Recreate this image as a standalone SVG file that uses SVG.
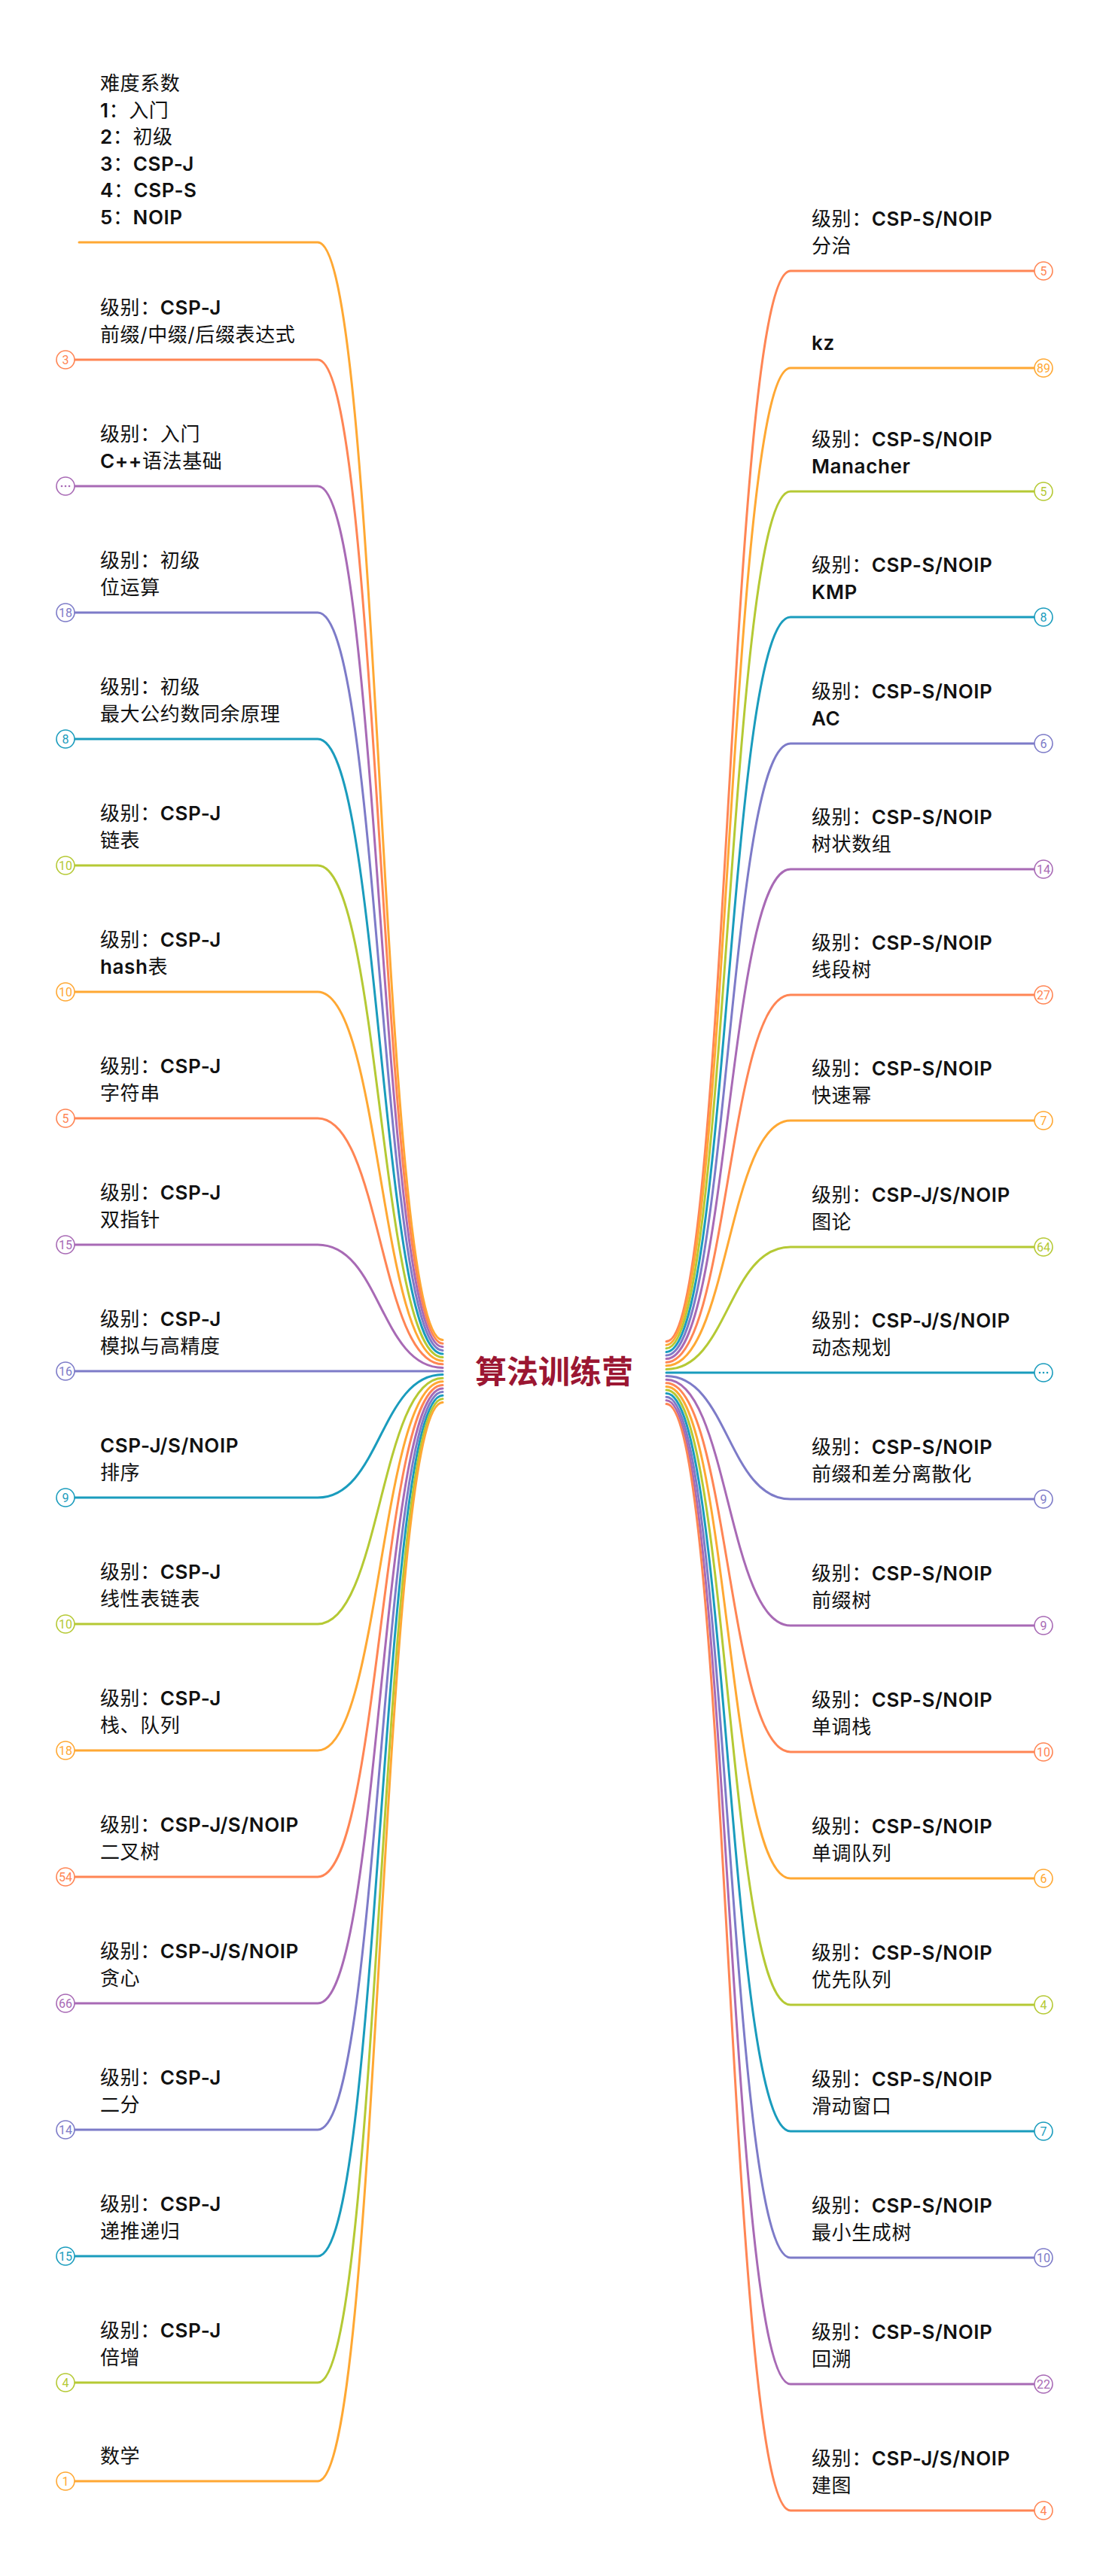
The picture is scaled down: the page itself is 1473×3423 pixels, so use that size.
<svg xmlns="http://www.w3.org/2000/svg" width="1473" height="3423" viewBox="0 0 1473 3423">
<style>
.t{font-family:Inter,"Noto Sans CJK SC",sans-serif;font-size:26px;letter-spacing:0.6px;fill:#111}
.b{font-weight:600}
.ln{fill:none;stroke-width:3;stroke-linecap:round}
.bd{fill:#fff;stroke-width:1.6}
.n{font-family:Roboto,"Liberation Sans",sans-serif;font-size:16px;text-anchor:middle}
.s0{stroke:#FFA833}.s1{stroke:#FF8554}.s2{stroke:#A86AB5}.s3{stroke:#7D7BC8}.s4{stroke:#1A9CBD}.s5{stroke:#B5C934}
.f0{fill:#FFA833}.f1{fill:#FF8554}.f2{fill:#A86AB5}.f3{fill:#7D7BC8}.f4{fill:#1A9CBD}.f5{fill:#B5C934}
.center{font-family:"Noto Sans CJK SC",sans-serif;font-size:42px;font-weight:700;fill:#9B1632;text-anchor:middle}
</style>
<rect width="1473" height="3423" fill="#fff"/>
<g id="connectors">
<path class="ln s0" d="M105 322H422C505 322 505 1780.6 588 1780.6"/>
<path class="ln s1" d="M99 478H422C505 478 505 1785.2 588 1785.2"/>
<path class="ln s2" d="M99 646H422C505 646 505 1789.8 588 1789.8"/>
<path class="ln s3" d="M99 814H422C505 814 505 1794.4 588 1794.4"/>
<path class="ln s4" d="M99 982H422C505 982 505 1799 588 1799"/>
<path class="ln s5" d="M99 1150H422C505 1150 505 1803.6 588 1803.6"/>
<path class="ln s0" d="M99 1318H422C505 1318 505 1808.2 588 1808.2"/>
<path class="ln s1" d="M99 1486H422C505 1486 505 1812.8 588 1812.8"/>
<path class="ln s2" d="M99 1654H422C505 1654 505 1817.4 588 1817.4"/>
<path class="ln s3" d="M99 1822H588"/>
<path class="ln s4" d="M99 1990H422C505 1990 505 1826.6 588 1826.6"/>
<path class="ln s5" d="M99 2158H422C505 2158 505 1831.2 588 1831.2"/>
<path class="ln s0" d="M99 2326H422C505 2326 505 1835.8 588 1835.8"/>
<path class="ln s1" d="M99 2494H422C505 2494 505 1840.4 588 1840.4"/>
<path class="ln s2" d="M99 2662H422C505 2662 505 1845 588 1845"/>
<path class="ln s3" d="M99 2830H422C505 2830 505 1849.6 588 1849.6"/>
<path class="ln s4" d="M99 2998H422C505 2998 505 1854.2 588 1854.2"/>
<path class="ln s5" d="M99 3166H422C505 3166 505 1858.8 588 1858.8"/>
<path class="ln s0" d="M99 3297H422C505 3297 505 1863.4 588 1863.4"/>

<path class="ln s1" d="M885 1782.6C967 1782.6 967 360 1050 360H1374"/>
<path class="ln s0" d="M885 1787.2C967 1787.2 967 489 1050 489H1374"/>
<path class="ln s5" d="M885 1791.8C967 1791.8 967 653 1050 653H1374"/>
<path class="ln s4" d="M885 1796.4C967 1796.4 967 820 1050 820H1374"/>
<path class="ln s3" d="M885 1801C967 1801 967 988 1050 988H1374"/>
<path class="ln s2" d="M885 1805.6C967 1805.6 967 1155 1050 1155H1374"/>
<path class="ln s1" d="M885 1810.2C967 1810.2 967 1322 1050 1322H1374"/>
<path class="ln s0" d="M885 1814.8C967 1814.8 967 1489 1050 1489H1374"/>
<path class="ln s5" d="M885 1819.4C967 1819.4 967 1657 1050 1657H1374"/>
<path class="ln s4" d="M885 1824H1374"/>
<path class="ln s3" d="M885 1828.6C967 1828.6 967 1992 1050 1992H1374"/>
<path class="ln s2" d="M885 1833.2C967 1833.2 967 2160 1050 2160H1374"/>
<path class="ln s1" d="M885 1837.8C967 1837.8 967 2328 1050 2328H1374"/>
<path class="ln s0" d="M885 1842.4C967 1842.4 967 2496 1050 2496H1374"/>
<path class="ln s5" d="M885 1847C967 1847 967 2664 1050 2664H1374"/>
<path class="ln s4" d="M885 1851.6C967 1851.6 967 2832 1050 2832H1374"/>
<path class="ln s3" d="M885 1856.2C967 1856.2 967 3000 1050 3000H1374"/>
<path class="ln s2" d="M885 1860.8C967 1860.8 967 3168 1050 3168H1374"/>
<path class="ln s1" d="M885 1865.4C967 1865.4 967 3336 1050 3336H1374"/>
</g>

<g id="center"><text class="center" x="736" y="1838">算法训练营</text></g>

<g id="node-L0">
<text class="t" x="133" y="120">难度系数</text>
<text class="t" x="133" y="155.6"><tspan class="b">1</tspan>：入门</text>
<text class="t" x="133" y="191.2"><tspan class="b">2</tspan>：初级</text>
<text class="t" x="133" y="226.8"><tspan class="b">3</tspan>：<tspan class="b">CSP-J</tspan></text>
<text class="t" x="133" y="262.4"><tspan class="b">4</tspan>：<tspan class="b">CSP-S</tspan></text>
<text class="t" x="133" y="298"><tspan class="b">5</tspan>：<tspan class="b">NOIP</tspan></text>
</g>
<g id="node-L1">
<text class="t" x="133" y="418">级别：<tspan class="b">CSP-J</tspan></text>
<text class="t" x="133" y="454">前缀/中缀/后缀表达式</text>
<circle class="bd s1" cx="87" cy="478" r="12"/><text class="n f1" x="87" y="483.5">3</text>
</g>
<g id="node-L2">
<text class="t" x="133" y="586">级别：入门</text>
<text class="t" x="133" y="622"><tspan class="b">C++</tspan>语法基础</text>
<circle class="bd s2" cx="87" cy="646" r="12"/><circle class="f2" cx="82" cy="646" r="1.3"/><circle class="f2" cx="87" cy="646" r="1.3"/><circle class="f2" cx="92" cy="646" r="1.3"/>
</g>
<g id="node-L3">
<text class="t" x="133" y="754">级别：初级</text>
<text class="t" x="133" y="790">位运算</text>
<circle class="bd s3" cx="87" cy="814" r="12"/><text class="n f3" x="87" y="819.5">18</text>
</g>
<g id="node-L4">
<text class="t" x="133" y="922">级别：初级</text>
<text class="t" x="133" y="958">最大公约数同余原理</text>
<circle class="bd s4" cx="87" cy="982" r="12"/><text class="n f4" x="87" y="987.5">8</text>
</g>
<g id="node-L5">
<text class="t" x="133" y="1090">级别：<tspan class="b">CSP-J</tspan></text>
<text class="t" x="133" y="1126">链表</text>
<circle class="bd s5" cx="87" cy="1150" r="12"/><text class="n f5" x="87" y="1155.5">10</text>
</g>
<g id="node-L6">
<text class="t" x="133" y="1258">级别：<tspan class="b">CSP-J</tspan></text>
<text class="t" x="133" y="1294"><tspan class="b">hash</tspan>表</text>
<circle class="bd s0" cx="87" cy="1318" r="12"/><text class="n f0" x="87" y="1323.5">10</text>
</g>
<g id="node-L7">
<text class="t" x="133" y="1426">级别：<tspan class="b">CSP-J</tspan></text>
<text class="t" x="133" y="1462">字符串</text>
<circle class="bd s1" cx="87" cy="1486" r="12"/><text class="n f1" x="87" y="1491.5">5</text>
</g>
<g id="node-L8">
<text class="t" x="133" y="1594">级别：<tspan class="b">CSP-J</tspan></text>
<text class="t" x="133" y="1630">双指针</text>
<circle class="bd s2" cx="87" cy="1654" r="12"/><text class="n f2" x="87" y="1659.5">15</text>
</g>
<g id="node-L9">
<text class="t" x="133" y="1762">级别：<tspan class="b">CSP-J</tspan></text>
<text class="t" x="133" y="1798">模拟与高精度</text>
<circle class="bd s3" cx="87" cy="1822" r="12"/><text class="n f3" x="87" y="1827.5">16</text>
</g>
<g id="node-L10">
<text class="t" x="133" y="1930"><tspan class="b">CSP-J/S/NOIP</tspan></text>
<text class="t" x="133" y="1966">排序</text>
<circle class="bd s4" cx="87" cy="1990" r="12"/><text class="n f4" x="87" y="1995.5">9</text>
</g>
<g id="node-L11">
<text class="t" x="133" y="2098">级别：<tspan class="b">CSP-J</tspan></text>
<text class="t" x="133" y="2134">线性表链表</text>
<circle class="bd s5" cx="87" cy="2158" r="12"/><text class="n f5" x="87" y="2163.5">10</text>
</g>
<g id="node-L12">
<text class="t" x="133" y="2266">级别：<tspan class="b">CSP-J</tspan></text>
<text class="t" x="133" y="2302">栈、队列</text>
<circle class="bd s0" cx="87" cy="2326" r="12"/><text class="n f0" x="87" y="2331.5">18</text>
</g>
<g id="node-L13">
<text class="t" x="133" y="2434">级别：<tspan class="b">CSP-J/S/NOIP</tspan></text>
<text class="t" x="133" y="2470">二叉树</text>
<circle class="bd s1" cx="87" cy="2494" r="12"/><text class="n f1" x="87" y="2499.5">54</text>
</g>
<g id="node-L14">
<text class="t" x="133" y="2602">级别：<tspan class="b">CSP-J/S/NOIP</tspan></text>
<text class="t" x="133" y="2638">贪心</text>
<circle class="bd s2" cx="87" cy="2662" r="12"/><text class="n f2" x="87" y="2667.5">66</text>
</g>
<g id="node-L15">
<text class="t" x="133" y="2770">级别：<tspan class="b">CSP-J</tspan></text>
<text class="t" x="133" y="2806">二分</text>
<circle class="bd s3" cx="87" cy="2830" r="12"/><text class="n f3" x="87" y="2835.5">14</text>
</g>
<g id="node-L16">
<text class="t" x="133" y="2938">级别：<tspan class="b">CSP-J</tspan></text>
<text class="t" x="133" y="2974">递推递归</text>
<circle class="bd s4" cx="87" cy="2998" r="12"/><text class="n f4" x="87" y="3003.5">15</text>
</g>
<g id="node-L17">
<text class="t" x="133" y="3106">级别：<tspan class="b">CSP-J</tspan></text>
<text class="t" x="133" y="3142">倍增</text>
<circle class="bd s5" cx="87" cy="3166" r="12"/><text class="n f5" x="87" y="3171.5">4</text>
</g>
<g id="node-L18">
<text class="t" x="133" y="3273">数学</text>
<circle class="bd s0" cx="87" cy="3297" r="12"/><text class="n f0" x="87" y="3302.5">1</text>
</g>

<g id="node-R0">
<text class="t" x="1078" y="300">级别：<tspan class="b">CSP-S/NOIP</tspan></text>
<text class="t" x="1078" y="336">分治</text>
<circle class="bd s1" cx="1386" cy="360" r="12"/><text class="n f1" x="1386" y="365.5">5</text>
</g>
<g id="node-R1">
<text class="t" x="1078" y="465"><tspan class="b">kz</tspan></text>
<circle class="bd s0" cx="1386" cy="489" r="12"/><text class="n f0" x="1386" y="494.5">89</text>
</g>
<g id="node-R2">
<text class="t" x="1078" y="593">级别：<tspan class="b">CSP-S/NOIP</tspan></text>
<text class="t" x="1078" y="629"><tspan class="b">Manacher</tspan></text>
<circle class="bd s5" cx="1386" cy="653" r="12"/><text class="n f5" x="1386" y="658.5">5</text>
</g>
<g id="node-R3">
<text class="t" x="1078" y="760">级别：<tspan class="b">CSP-S/NOIP</tspan></text>
<text class="t" x="1078" y="796"><tspan class="b">KMP</tspan></text>
<circle class="bd s4" cx="1386" cy="820" r="12"/><text class="n f4" x="1386" y="825.5">8</text>
</g>
<g id="node-R4">
<text class="t" x="1078" y="928">级别：<tspan class="b">CSP-S/NOIP</tspan></text>
<text class="t" x="1078" y="964"><tspan class="b">AC</tspan></text>
<circle class="bd s3" cx="1386" cy="988" r="12"/><text class="n f3" x="1386" y="993.5">6</text>
</g>
<g id="node-R5">
<text class="t" x="1078" y="1095">级别：<tspan class="b">CSP-S/NOIP</tspan></text>
<text class="t" x="1078" y="1131">树状数组</text>
<circle class="bd s2" cx="1386" cy="1155" r="12"/><text class="n f2" x="1386" y="1160.5">14</text>
</g>
<g id="node-R6">
<text class="t" x="1078" y="1262">级别：<tspan class="b">CSP-S/NOIP</tspan></text>
<text class="t" x="1078" y="1298">线段树</text>
<circle class="bd s1" cx="1386" cy="1322" r="12"/><text class="n f1" x="1386" y="1327.5">27</text>
</g>
<g id="node-R7">
<text class="t" x="1078" y="1429">级别：<tspan class="b">CSP-S/NOIP</tspan></text>
<text class="t" x="1078" y="1465">快速幂</text>
<circle class="bd s0" cx="1386" cy="1489" r="12"/><text class="n f0" x="1386" y="1494.5">7</text>
</g>
<g id="node-R8">
<text class="t" x="1078" y="1597">级别：<tspan class="b">CSP-J/S/NOIP</tspan></text>
<text class="t" x="1078" y="1633">图论</text>
<circle class="bd s5" cx="1386" cy="1657" r="12"/><text class="n f5" x="1386" y="1662.5">64</text>
</g>
<g id="node-R9">
<text class="t" x="1078" y="1764">级别：<tspan class="b">CSP-J/S/NOIP</tspan></text>
<text class="t" x="1078" y="1800">动态规划</text>
<circle class="bd s4" cx="1386" cy="1824" r="12"/><circle class="f4" cx="1381" cy="1824" r="1.3"/><circle class="f4" cx="1386" cy="1824" r="1.3"/><circle class="f4" cx="1391" cy="1824" r="1.3"/>
</g>
<g id="node-R10">
<text class="t" x="1078" y="1932">级别：<tspan class="b">CSP-S/NOIP</tspan></text>
<text class="t" x="1078" y="1968">前缀和差分离散化</text>
<circle class="bd s3" cx="1386" cy="1992" r="12"/><text class="n f3" x="1386" y="1997.5">9</text>
</g>
<g id="node-R11">
<text class="t" x="1078" y="2100">级别：<tspan class="b">CSP-S/NOIP</tspan></text>
<text class="t" x="1078" y="2136">前缀树</text>
<circle class="bd s2" cx="1386" cy="2160" r="12"/><text class="n f2" x="1386" y="2165.5">9</text>
</g>
<g id="node-R12">
<text class="t" x="1078" y="2268">级别：<tspan class="b">CSP-S/NOIP</tspan></text>
<text class="t" x="1078" y="2304">单调栈</text>
<circle class="bd s1" cx="1386" cy="2328" r="12"/><text class="n f1" x="1386" y="2333.5">10</text>
</g>
<g id="node-R13">
<text class="t" x="1078" y="2436">级别：<tspan class="b">CSP-S/NOIP</tspan></text>
<text class="t" x="1078" y="2472">单调队列</text>
<circle class="bd s0" cx="1386" cy="2496" r="12"/><text class="n f0" x="1386" y="2501.5">6</text>
</g>
<g id="node-R14">
<text class="t" x="1078" y="2604">级别：<tspan class="b">CSP-S/NOIP</tspan></text>
<text class="t" x="1078" y="2640">优先队列</text>
<circle class="bd s5" cx="1386" cy="2664" r="12"/><text class="n f5" x="1386" y="2669.5">4</text>
</g>
<g id="node-R15">
<text class="t" x="1078" y="2772">级别：<tspan class="b">CSP-S/NOIP</tspan></text>
<text class="t" x="1078" y="2808">滑动窗口</text>
<circle class="bd s4" cx="1386" cy="2832" r="12"/><text class="n f4" x="1386" y="2837.5">7</text>
</g>
<g id="node-R16">
<text class="t" x="1078" y="2940">级别：<tspan class="b">CSP-S/NOIP</tspan></text>
<text class="t" x="1078" y="2976">最小生成树</text>
<circle class="bd s3" cx="1386" cy="3000" r="12"/><text class="n f3" x="1386" y="3005.5">10</text>
</g>
<g id="node-R17">
<text class="t" x="1078" y="3108">级别：<tspan class="b">CSP-S/NOIP</tspan></text>
<text class="t" x="1078" y="3144">回溯</text>
<circle class="bd s2" cx="1386" cy="3168" r="12"/><text class="n f2" x="1386" y="3173.5">22</text>
</g>
<g id="node-R18">
<text class="t" x="1078" y="3276">级别：<tspan class="b">CSP-J/S/NOIP</tspan></text>
<text class="t" x="1078" y="3312">建图</text>
<circle class="bd s1" cx="1386" cy="3336" r="12"/><text class="n f1" x="1386" y="3341.5">4</text>
</g>
</svg>
